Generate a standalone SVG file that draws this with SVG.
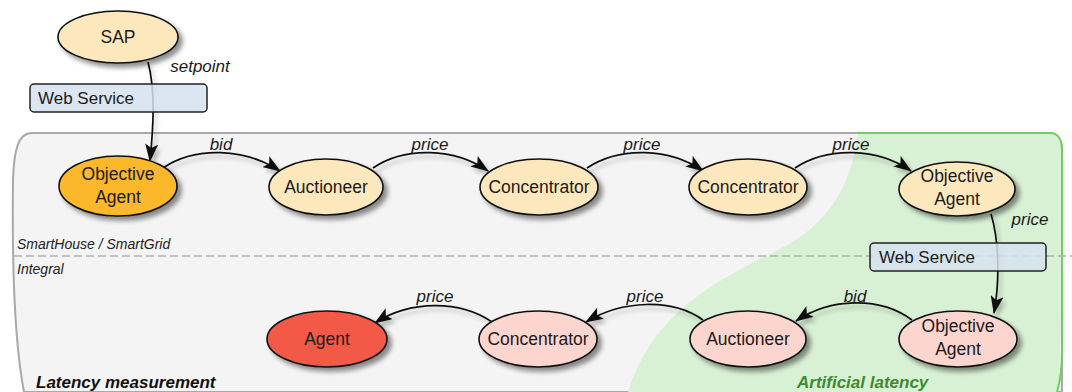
<svg xmlns="http://www.w3.org/2000/svg" width="1072" height="392" viewBox="0 0 1072 392">
  <defs>
    <filter id="shadow" x="-20%" y="-20%" width="150%" height="160%">
      <feGaussianBlur in="SourceAlpha" stdDeviation="2.5"/>
      <feOffset dx="4" dy="4" result="b"/>
      <feComponentTransfer><feFuncA type="linear" slope="0.45"/></feComponentTransfer>
      <feMerge><feMergeNode/><feMergeNode in="SourceGraphic"/></feMerge>
    </filter>
    <filter id="lineShadow" x="-10%" y="-30%" width="120%" height="180%">
      <feGaussianBlur in="SourceAlpha" stdDeviation="2"/>
      <feOffset dx="3" dy="4" result="b"/>
      <feComponentTransfer><feFuncA type="linear" slope="0.25"/></feComponentTransfer>
      <feMerge><feMergeNode/><feMergeNode in="SourceGraphic"/></feMerge>
    </filter>
    <marker id="arrow" viewBox="0 0 18 13" refX="17" refY="6.5" markerWidth="18" markerHeight="13" markerUnits="userSpaceOnUse" orient="auto">
      <path d="M0,0 L18,6.5 L0,13 L4,6.5 Z" fill="#111"/>
    </marker>
  </defs>
  <style>
    .node ellipse { stroke: #111; stroke-width: 1.6; filter: url(#shadow); }
    .node text { font-family: "Liberation Sans", Arial, sans-serif; font-size: 17.5px; fill: #1a1a1a; text-anchor: middle; }
    .cream { fill: #fde8bd; }
    .orange { fill: #fbb829; }
    .red { fill: #f25a46; }
    .pink { fill: #fdd5cf; }
    .ws rect { fill: #d6e2f0; fill-opacity: 0.85; stroke: #222; stroke-width: 1.5; }
    .ws text { font-family: "Liberation Sans", Arial, sans-serif; font-size: 17px; fill: #1a1a1a; }
    .edge { fill: none; stroke: #111; stroke-width: 1.7; marker-end: url(#arrow); }
    .elabel { font-family: "Liberation Sans", Arial, sans-serif; font-size: 17px; font-style: italic; fill: #1a1a1a; text-anchor: middle; }
    .zone { font-family: "Liberation Sans", Arial, sans-serif; font-size: 14px; font-style: italic; fill: #222; }
    .title { font-family: "Liberation Sans", Arial, sans-serif; font-size: 17px; font-style: italic; font-weight: bold; }
  </style>

  <rect width="1072" height="392" fill="#ffffff"/>

  <!-- container: latency measurement -->
  <path d="M24,392 C14,340 12,260 13,180 C14,150 18,133 32,133 L1050,133 C1058,133 1062,140 1062,150 L1062,392 Z" fill="#f4f4f4" stroke="#a8a8a8" stroke-width="2"/>

  <!-- artificial latency zone -->
  <path d="M858,133 C850,195 822,230 770,254 C700,288 650,322 628,392 L1058,392 C1062,340 1062,200 1062,150 C1062,140 1058,133 1050,133 Z" fill="#d8f0d4"/>
  <path d="M858,133 L1050,133 C1058,133 1062,140 1062,150 L1062,350 C1062,370 1060,382 1057,392" fill="none" stroke="#6ccf5f" stroke-width="2"/>

  <!-- layer separator -->
  <line x1="14" y1="256" x2="1072" y2="256" stroke="#b0b0b0" stroke-width="1.5" stroke-dasharray="8,4"/>
  <text class="zone" x="17" y="249">SmartHouse / SmartGrid</text>
  <text class="zone" x="17" y="274">Integral</text>
  <text class="title" x="36" y="388" fill="#111">Latency measurement</text>
  <text class="title" x="797" y="388" fill="#3d8b2f">Artificial latency</text>

  <!-- connectors -->
  <g id="connectors" filter="url(#lineShadow)">
    <path class="edge" d="M148,62 C156,92 153,130 150,161"/>
    <path class="edge" d="M163,168 C195,146 245,148 280,171"/>
    <path class="edge" d="M373,168 C405,146 455,148 488,171"/>
    <path class="edge" d="M587,168 C620,146 670,148 703,171"/>
    <path class="edge" d="M795,168 C828,146 878,148 911,171"/>
    <path class="edge" d="M991,214 C999,240 1000,280 994,313"/>
    <path class="edge" d="M912,320 C880,296 830,298 796,321"/>
    <path class="edge" d="M703,320 C672,298 622,300 586,322"/>
    <path class="edge" d="M492,322 C460,300 410,300 375,323"/>
  </g>

  <!-- connector labels -->
  <text class="elabel" x="200" y="72">setpoint</text>
  <text class="elabel" x="221" y="150">bid</text>
  <text class="elabel" x="430" y="150">price</text>
  <text class="elabel" x="642" y="150">price</text>
  <text class="elabel" x="851" y="150">price</text>
  <text class="elabel" x="1030" y="225">price</text>
  <text class="elabel" x="855" y="302">bid</text>
  <text class="elabel" x="645" y="302">price</text>
  <text class="elabel" x="435" y="302">price</text>

  <!-- nodes -->
  <g id="sap" class="node">
    <ellipse class="cream" cx="118" cy="37" rx="60" ry="26"/>
    <text x="118" y="43">SAP</text>
  </g>
  <g id="objective-agent-src" class="node">
    <ellipse class="orange" cx="118" cy="186" rx="59" ry="30"/>
    <text x="118" y="180">Objective</text>
    <text x="118" y="203">Agent</text>
  </g>
  <g id="auctioneer-up" class="node">
    <ellipse class="cream" cx="326" cy="187" rx="57" ry="28"/>
    <text x="326" y="193">Auctioneer</text>
  </g>
  <g id="concentrator-up-1" class="node">
    <ellipse class="cream" cx="539" cy="187" rx="59" ry="28"/>
    <text x="539" y="193">Concentrator</text>
  </g>
  <g id="concentrator-up-2" class="node">
    <ellipse class="cream" cx="748" cy="187" rx="59" ry="28"/>
    <text x="748" y="193">Concentrator</text>
  </g>
  <g id="objective-agent-remote" class="node">
    <ellipse class="cream" cx="957" cy="189" rx="58" ry="27"/>
    <text x="957" y="182">Objective</text>
    <text x="957" y="205">Agent</text>
  </g>
  <g id="objective-agent-back" class="node">
    <ellipse class="pink" cx="958" cy="339" rx="59" ry="28"/>
    <text x="958" y="332">Objective</text>
    <text x="958" y="355">Agent</text>
  </g>
  <g id="auctioneer-down" class="node">
    <ellipse class="pink" cx="748" cy="339" rx="58" ry="28"/>
    <text x="748" y="345">Auctioneer</text>
  </g>
  <g id="concentrator-down" class="node">
    <ellipse class="pink" cx="538" cy="339" rx="59" ry="28"/>
    <text x="538" y="345">Concentrator</text>
  </g>
  <g id="agent" class="node">
    <ellipse class="red" cx="327" cy="339" rx="60" ry="28"/>
    <text x="327" y="345">Agent</text>
  </g>

  <!-- web service gateways -->
  <g id="web-service-1" class="ws">
    <rect x="30" y="84" width="177" height="28" rx="4"/>
    <text x="38" y="104">Web Service</text>
  </g>
  <g id="web-service-2" class="ws">
    <rect x="870" y="243" width="176" height="28" rx="4"/>
    <text x="879" y="263">Web Service</text>
  </g>
</svg>
